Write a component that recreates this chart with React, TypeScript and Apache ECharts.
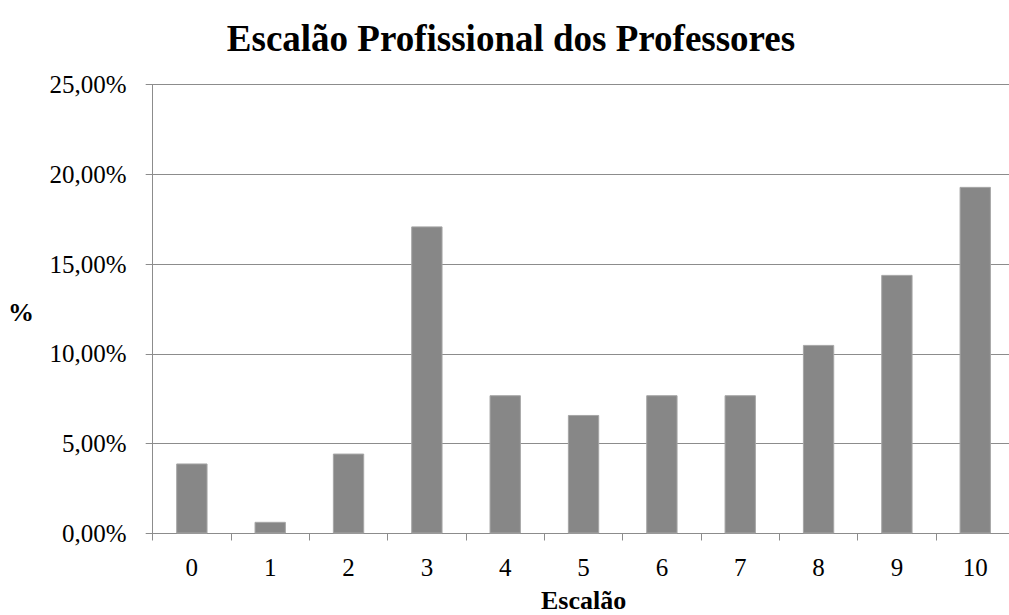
import React, { useEffect, useRef } from "react";
import * as echarts from "echarts";

const categories = ["0", "1", "2", "3", "4", "5", "6", "7", "8", "9", "10"];
const values = [3.9, 0.65, 4.45, 17.1, 7.7, 6.6, 7.7, 7.7, 10.5, 14.4, 19.3];
const yTicks = { min: 0, max: 25, interval: 5 };
const titleText = "Escalão Profissional dos Professores";
const xTitle = "Escalão";
const yTitle = "%";

const FONT = "'Liberation Serif', 'Times New Roman', serif";

export default function App() {
  const ref = useRef<HTMLDivElement>(null);
  useEffect(() => {
    if (!ref.current) return;
    const chart = echarts.init(ref.current, null, { renderer: "svg" });
    chart.setOption({
      animation: false,
      backgroundColor: "#ffffff",
      textStyle: { fontFamily: FONT },
      graphic: [
        {
          type: "text",
          x: 511,
          y: 38,
          style: {
            text: titleText,
            fontFamily: FONT,
            fontSize: 37,
            fontWeight: "bold",
            fill: "#000",
            textAlign: "center",
            textVerticalAlign: "middle",
          },
        },
        {
          type: "text",
          x: 21,
          y: 312,
          style: {
            text: yTitle,
            fontFamily: FONT,
            fontSize: 26,
            fontWeight: "bold",
            fill: "#000",
            textAlign: "center",
            textVerticalAlign: "middle",
          },
        },
      ],
      grid: {
        left: 152.7,
        top: 84.5,
        width: 861.7,
        height: 449,
        containLabel: false,
        outerBoundsMode: "none",
      },
      xAxis: {
        type: "category",
        data: categories,
        name: xTitle,
        nameLocation: "middle",
        nameGap: 54,
        nameTextStyle: { fontFamily: FONT, fontSize: 26, fontWeight: "bold", color: "#000" },
        axisLine: { lineStyle: { color: "#8c8c8c", width: 1 } },
        axisTick: { show: true, length: 7, lineStyle: { color: "#8c8c8c" } },
        axisLabel: { fontFamily: FONT, fontSize: 25, color: "#000", margin: 21 },
      },
      yAxis: {
        type: "value",
        min: yTicks.min,
        max: yTicks.max,
        interval: yTicks.interval,
        axisLine: { show: true, lineStyle: { color: "#8c8c8c", width: 1 } },
        axisTick: { show: true, length: 7, lineStyle: { color: "#8c8c8c" } },
        splitLine: { show: true, lineStyle: { color: "#8c8c8c", width: 1 } },
        axisLabel: {
          fontFamily: FONT,
          fontSize: 25,
          color: "#000",
          margin: 26,
          formatter: (v: number) => v.toFixed(2).replace(".", ",") + "%",
        },
      },
      series: [
        {
          type: "bar",
          data: values,
          barWidth: "40%",
          itemStyle: { color: "#878787", borderColor: "#a6a6a6", borderWidth: 1 },
        },
      ],
    });
    return () => chart.dispose();
  }, []);
  return (
    <div
      ref={ref}
      style={{ position: "fixed", left: 0, top: 0, width: 1009, height: 615 }}
    />
  );
}
